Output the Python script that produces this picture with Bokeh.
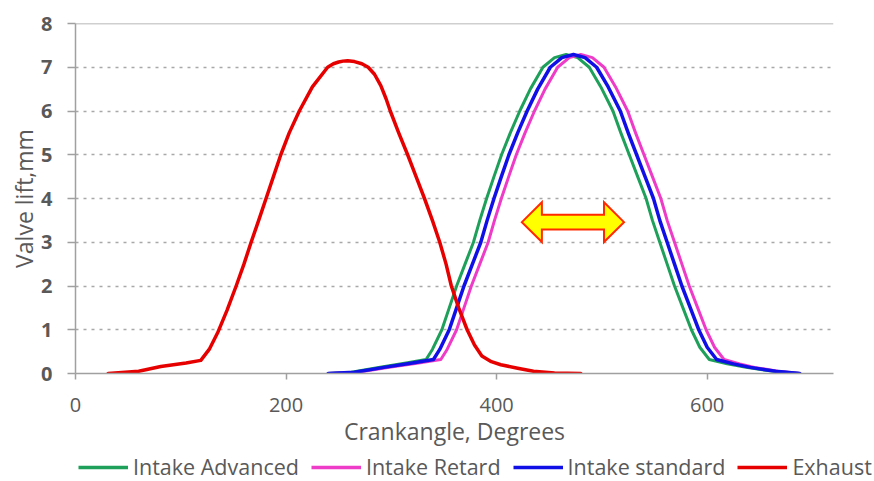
from bokeh.plotting import figure
from bokeh.models import Range1d, FixedTicker, Legend, LegendItem, Span
from bokeh.layouts import column
from bokeh.embed import file_html
from bokeh.resources import INLINE

# ---- data ----
exhaust_deg = [31, 60, 81, 105, 119, 127, 135, 144, 152.6, 160, 166.8, 174, 181, 188, 195,
               203, 212.6, 225, 239.5, 245, 250, 254, 258.5, 265, 272, 278, 284, 290, 295, 299,
               307, 315.5, 323.5, 331.5, 339, 346, 352, 357, 364, 372, 379, 386, 395, 404, 420,
               435, 455, 480]
exhaust_lift = [0, 0.05, 0.16, 0.24, 0.3, 0.55, 0.93, 1.45, 2.0, 2.5, 3.0, 3.5, 4.0, 4.5, 5.0,
                5.5, 6.0, 6.55, 7.0, 7.08, 7.12, 7.14, 7.15, 7.13, 7.08, 7.0, 6.84, 6.58, 6.28, 6.0,
                5.5, 5.0, 4.5, 4.0, 3.5, 3.0, 2.5, 2.0, 1.5, 1.0, 0.65, 0.4, 0.27, 0.2, 0.12,
                0.05, 0.01, 0]

intake_lift = [0, 0.03, 0.14, 0.24, 0.32, 0.55, 1.0, 1.5, 2.0, 2.5, 3.0, 3.5, 4.0, 4.5, 5.0,
               5.5, 6.0, 6.5, 7.0, 7.22, 7.29, 7.22, 7.0, 6.55, 6.0, 5.5, 5.0, 4.5, 4.0, 3.5,
               3.0, 2.5, 2.0, 1.5, 1.0, 0.6, 0.32, 0.22, 0.14, 0.05, 0]
standard_deg = [240, 265, 293, 320, 340, 346, 355, 362, 369, 377, 385, 391, 397.5, 404.5, 411.7,
                420, 429, 439, 451, 462, 473, 484, 495, 506, 517.5, 525, 533, 541, 549, 555,
                562, 569, 576, 584, 592, 600, 609, 625, 641, 665, 688]
advanced_deg = [240, 262, 288, 314, 333, 339, 348, 355, 362, 370, 378, 384, 390.5, 397.5, 404.7,
                413, 422, 432, 444, 455, 466, 477, 488, 499, 510.5, 518, 526, 534, 542, 548,
                555, 562, 569, 577, 585, 593, 602, 619, 637, 663, 688]
retard_deg = [240, 268, 298, 326, 347, 353, 362, 369, 376, 384, 392, 398, 404.5, 411.5, 418.7,
              427, 436, 446, 458, 469, 480, 491, 502, 513, 524.5, 532, 540, 548, 556, 562,
              569, 576, 583, 591, 599, 607, 616, 631, 645, 667, 688]

x_ticks = [0, 200, 400, 600]
y_ticks = [0, 1, 2, 3, 4, 5, 6, 7, 8]

series_names = ["Intake Advanced", "Intake Retard", "Intake standard", "Exhaust"]
series_colors = ["#1FA05A", "#EE3CC8", "#1010E6", "#E60000"]

# double arrow annotation (centre line in data units)
arrow_left, arrow_right, arrow_y = 424, 521, 3.46

TXT = "#595959"
FONT = "Open Sans"
W = 874

p = figure(width=W, height=452, output_backend="svg", toolbar_location=None,
           x_range=Range1d(0, 720), y_range=Range1d(0, 8),
           min_border_left=75, min_border_right=41, min_border_top=23,
           min_border_bottom=79)
p.outline_line_color = None
p.background_fill_color = "white"
p.border_fill_color = "white"

# grid
p.xgrid.grid_line_color = None
p.ygrid.ticker = FixedTicker(ticks=y_ticks)
p.ygrid.grid_line_color = "#A8A8A8"
p.ygrid.grid_line_dash = "3 5"
p.ygrid.grid_line_width = 1.5

# axes
p.xaxis.ticker = FixedTicker(ticks=x_ticks)
p.yaxis.ticker = FixedTicker(ticks=y_ticks)
for ax in (p.xaxis[0], p.yaxis[0]):
    ax.axis_line_color = "#A0A0A0"
    ax.axis_line_width = 1.5
    ax.major_tick_line_color = "#A0A0A0"
    ax.major_tick_line_width = 1.5
    ax.major_tick_in = 0
    ax.minor_tick_line_color = None
    ax.major_label_text_font = FONT
    ax.major_label_text_color = TXT
    ax.axis_label_text_font = FONT
    ax.axis_label_text_color = TXT
    ax.axis_label_text_font_style = "normal"
    ax.axis_label_text_font_size = "23px"

p.xaxis.major_tick_out = 6
p.xaxis.major_label_text_font_size = "20px"
p.xaxis.major_label_standoff = 18
p.xaxis.axis_label = "Crankangle, Degrees"
p.xaxis.axis_label_standoff = 0

p.yaxis.major_tick_out = 8
p.yaxis.major_label_text_font_size = "20px"
p.yaxis.major_label_text_font_style = "bold"
p.yaxis.major_label_standoff = 15
p.yaxis.axis_label = "Valve lift,mm"
p.yaxis.axis_label_standoff = -2

top_line = Span(location=y_ticks[-1], dimension="width", line_color="#A0A0A0", line_width=1.5)
p.add_layout(top_line)

# series
xs = [advanced_deg, retard_deg, standard_deg, exhaust_deg]
ys = [intake_lift, intake_lift, intake_lift, exhaust_lift]
widths = [3, 3, 3.5, 3.5]
for x, y, c, w in zip(xs, ys, series_colors, widths):
    p.line(x, y, line_color=c, line_width=w, line_join="round", line_cap="round")

# double-headed arrow
dx_head = 19      # degrees
hh = 0.455        # head half-height
sh = 0.17         # shaft half-height
ax_ = [arrow_left, arrow_left + dx_head, arrow_left + dx_head, arrow_right - dx_head,
       arrow_right - dx_head, arrow_right, arrow_right - dx_head, arrow_right - dx_head,
       arrow_left + dx_head, arrow_left + dx_head]
ay_ = [arrow_y, arrow_y + hh, arrow_y + sh, arrow_y + sh, arrow_y + hh, arrow_y,
       arrow_y - hh, arrow_y - sh, arrow_y - sh, arrow_y - hh]
p.patch(ax_, ay_, fill_color="#FFFF00", line_color="#FF2A00", line_width=2, line_join="miter")

# legend strip below the chart (proxy renderers sit outside the visible range)
lg = figure(width=W, height=29, output_backend="svg", toolbar_location=None,
            x_axis_type=None, y_axis_type=None,
            x_range=Range1d(0, 1), y_range=Range1d(0, 1),
            min_border_left=0, min_border_right=0, min_border_top=0, min_border_bottom=0)
lg.grid.visible = False
lg.outline_line_color = None
for fig in (p, lg):
    if "frame_align" in fig.properties():
        fig.frame_align = False
items = []
for n, c in zip(series_names, series_colors):
    r = lg.line(x=[-5, -4], y=[-5, -4], line_color=c, line_width=3.5)
    items.append(LegendItem(label=n, renderers=[r]))
legend = Legend(items=items, orientation="horizontal", location=(78, 0),
                glyph_width=50, glyph_height=20, label_standoff=5, spacing=12,
                padding=0, margin=0, border_line_color=None, background_fill_alpha=0,
                label_text_font=FONT, label_text_font_size="21.5px", label_text_color=TXT)
lg.add_layout(legend, "center")

layout = column(p, lg, spacing=0)
open("out.html", "w").write(file_html(layout, INLINE))
